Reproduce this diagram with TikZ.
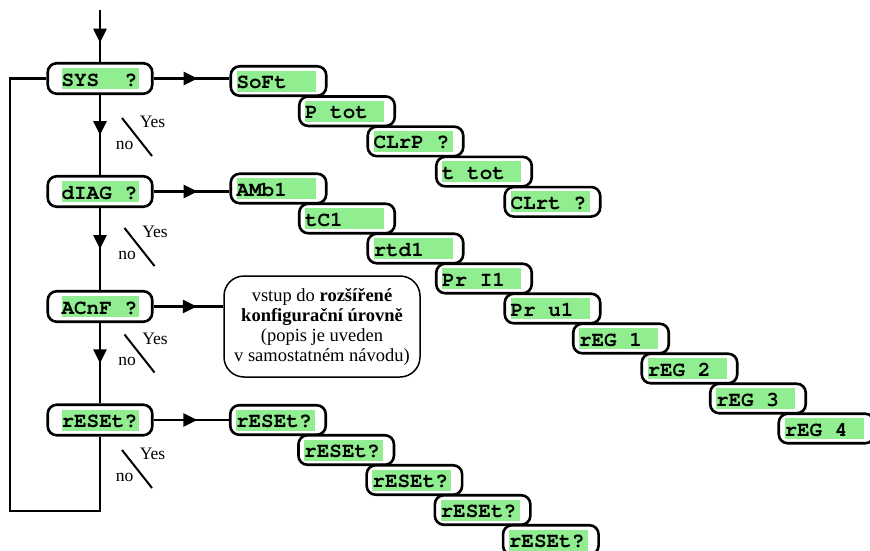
\documentclass[tikz,border=0pt]{standalone}
\usepackage[T1]{fontenc}
\usepackage{fontspec}
\setmainfont{Liberation Serif}
\setmonofont{Liberation Mono}
\usetikzlibrary{arrows.meta,decorations.markings}
\definecolor{lgreen}{RGB}{144,238,144}
\newcommand{\gfield}[2]{\setlength{\fboxsep}{0pt}\colorbox{lgreen}{\makebox[#1][l]{\fontencoding{T1}\fontfamily{pcr}\fontseries{b}\fontshape{n}\fontsize{21}{21}\selectfont\rule[-3pt]{0pt}{21pt}#2}}}
\tikzset{
  mainbox/.style={draw, line width=2.6pt, rounded corners=9pt, fill=white, inner xsep=13.75pt, inner ysep=4.75pt},
  subbox/.style={draw, line width=2.6pt, rounded corners=9pt, fill=white, inner xsep=5.75pt, inner ysep=4.25pt},
  notebox/.style={draw, line width=1.5pt, rounded corners=20pt, fill=white, minimum width=196pt, minimum height=101pt, align=center, font=\fontsize{18.5}{20}\selectfont, inner sep=0pt},
  conn/.style={line width=2.6pt},
  midarrow/.style={postaction={decorate}, decoration={markings, mark=at position #1 with {\arrow{Triangle[length=14pt,width=13pt]}}}},
  slashline/.style={line width=2pt},
  yn/.style={font=\fontsize{17.5}{18}\selectfont, inner sep=0pt}
}
\begin{document}
\begin{tikzpicture}[x=1pt,y=-1pt]
\useasboundingbox (0,0) rectangle (870,551);
\clip (0,0) rectangle (870,551);
% main column
\node[mainbox] (m1) at (100,78.5) {\gfield{77pt}{SYS\ \ ?}};
\node[mainbox] (m2) at (100,191.5) {\gfield{77pt}{dIAG ?}};
\node[mainbox] (m3) at (100,306.5) {\gfield{77pt}{ACnF ?}};
\node[mainbox] (m4) at (100,420) {\gfield{77pt}{rESEt?}};
\coordinate (top) at (100,10);
\coordinate (lb) at (10,511);
\draw[conn, midarrow=0.63] (top) -- (m1.north);
\draw[conn, midarrow=0.5] (m1.south) -- (m2.north);
\draw[conn, midarrow=0.5] (m2.south) -- (m3.north);
\draw[conn, midarrow=0.5] (m3.south) -- (m4.north);
\draw[conn] (m4.south) |- (lb) |- (m1.west);
% staircase 1
\foreach \t [count=\i from 0] in {SoFt,P tot,CLrP ?,t tot,CLrt ?}{
  \node[subbox] (a\i) at ({278.5+68.5*\i},{81+30.2*\i}) {\gfield{79pt}{\t}\hspace*{5pt}};
}
% staircase 2
\foreach \t [count=\i from 0] in {AMb1,tC1,rtd1,Pr I1,Pr u1,rEG 1,rEG 2,rEG 3,rEG 4}{
  \node[subbox] (b\i) at ({278.5+68.5*\i},{188.5+30*\i}) {\gfield{79pt}{\t}\hspace*{5pt}};
}
% staircase 3
\foreach \i in {0,...,4}{
  \node[subbox] (c\i) at ({278+68.2*\i},{420+30*\i}) {\gfield{79pt}{rESEt?}\hspace*{5pt}};
}
% note
\node[notebox] (note) at (322,326.5) {vstup do \textbf{rozšířené}\\ \textbf{konfigurační úrovně}\\ (popis je uveden\\ v samostatném návodu)};
% horizontal connectors
\draw[conn, midarrow=0.58] (m1.east) -- (m1.east -| a0.west);
\draw[conn, midarrow=0.58] (m2.east) -- (m2.east -| b0.west);
\draw[conn, midarrow=0.62] (m3.east) -- (m3.east -| note.west);
\draw[conn, midarrow=0.58] (m4.east) -- (m4.east -| c0.west);
% yes / no marks
\foreach \x/\y [count=\k] in {137/137, 139.5/247, 139.5/353.5, 137/469}{
  \draw[slashline] ({\x-15},{\y-19}) -- ({\x+15},{\y+19});
  \node[yn] (yes\k) at ({\x+15.5},{\y-15}) {Yes};
  \node[yn] (no\k) at ({\x-12.5},{\y+8}) {no};
}
\end{tikzpicture}
\end{document}
